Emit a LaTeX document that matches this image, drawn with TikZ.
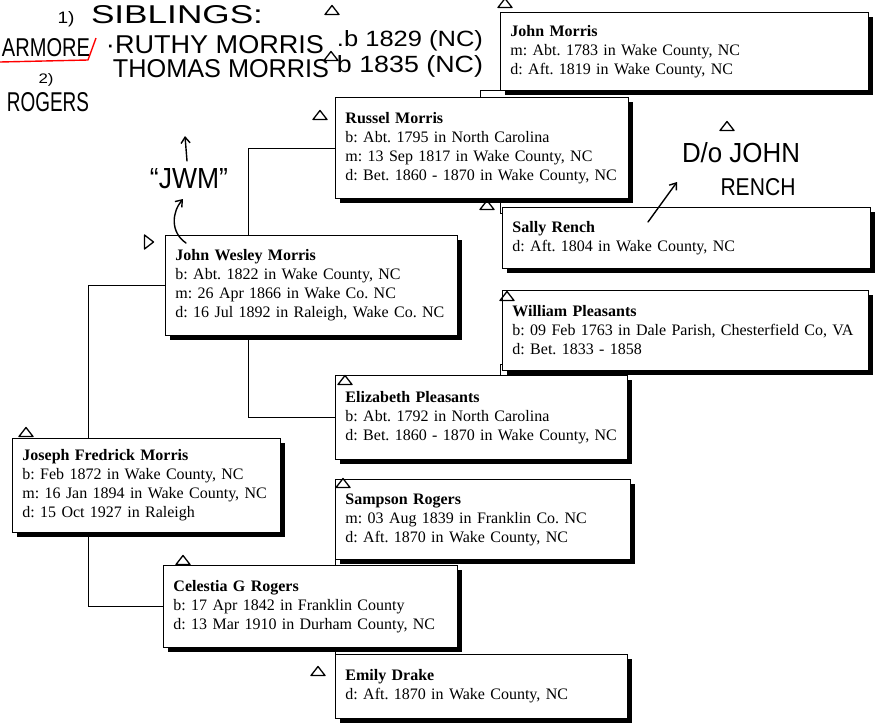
\documentclass[tikz,border=0pt]{standalone}
\usepackage{fontspec}
\setmainfont{Liberation Serif}
\newfontfamily\hwfont{Liberation Sans}
\usepackage{graphicx}
\usetikzlibrary{shadows,calc,arrows.meta}
\begin{document}
\frenchspacing
\begin{tikzpicture}[x=1pt,y=-1pt,
  pbox/.style={draw=black, line width=0.9pt, fill=white, inner xsep=10pt, inner ysep=0pt,
    anchor=north west, align=left, font=\fontsize{16}{19}\selectfont,
    drop shadow={shadow xshift=4.5pt, shadow yshift=-4.5pt, fill=black, opacity=1}},
  conn/.style={line width=0.9pt},
  hwl/.style={line width=1.4pt, line cap=round, line join=round},
  hwn/.style={inner sep=0pt, anchor=center},
  hwtip/.style={-{Straight Barb[length=6pt,width=9pt]}},
  tri/.pic={\draw[line width=1.3pt, line join=round] (-7,3.5) -- (7,3.5) -- (0,-5.5) -- cycle;}
]
\useasboundingbox (0,0) rectangle (877,723);
\fill[white] (0,0) rectangle (877,723);

% boxes
\node[pbox,text width=348pt,minimum height=78pt] (jm) at (500,12) {\textbf{John Morris}\\m: Abt. 1783 in Wake County, NC\\d: Aft. 1819 in Wake County, NC};
\node[pbox,text width=273pt,minimum height=101pt] (rm) at (335,97) {\textbf{Russel Morris}\\b: Abt. 1795 in North Carolina\\m: 13 Sep 1817 in Wake County, NC\\d: Bet. 1860 - 1870 in Wake County, NC};
\node[pbox,text width=348pt,minimum height=61pt] (sr) at (502,207) {\textbf{Sally Rench}\\d: Aft. 1804 in Wake County, NC};
\node[pbox,text width=272pt,minimum height=100pt] (jwm) at (165,235) {\textbf{John Wesley Morris}\\b: Abt. 1822 in Wake County, NC\\m: 26 Apr 1866 in Wake Co. NC\\d: 16 Jul 1892 in Raleigh, Wake Co. NC};
\node[pbox,text width=346pt,minimum height=80pt] (wp) at (502,290) {\textbf{William Pleasants}\\b: 09 Feb 1763 in Dale Parish, Chesterfield Co, VA\\d: Bet. 1833 - 1858};
\node[pbox,text width=272pt,minimum height=84pt] (ep) at (335,375) {\textbf{Elizabeth Pleasants}\\b: Abt. 1792 in North Carolina\\d: Bet. 1860 - 1870 in Wake County, NC};
\node[pbox,text width=248pt,minimum height=94pt] (jfm) at (12,438) {\textbf{Joseph Fredrick Morris}\\b: Feb 1872 in Wake County, NC\\m: 16 Jan 1894 in Wake County, NC\\d: 15 Oct 1927 in Raleigh};
\node[pbox,text width=275pt,minimum height=80pt] (sam) at (335,479) {\textbf{Sampson Rogers}\\m: 03 Aug 1839 in Franklin Co. NC\\d: Aft. 1870 in Wake County, NC};
\node[pbox,text width=274pt,minimum height=82pt] (cgr) at (163,565) {\textbf{Celestia G Rogers}\\b: 17 Apr 1842 in Franklin County\\d: 13 Mar 1910 in Durham County, NC};
\node[pbox,text width=272pt,minimum height=64pt] (ed) at (335,654) {\textbf{Emily Drake}\\d: Aft. 1870 in Wake County, NC};

% connectors
\draw[conn] ($(jfm.north west)+(76,0)$) |- (jwm.west);
\draw[conn] ($(jfm.south west)+(76,0)$) |- (cgr.west);
\draw[conn] ($(jwm.north west)+(83,0)$) |- (rm.west);
\draw[conn] ($(jwm.south west)+(83,0)$) |- (ep.west);
\draw[conn] ($(rm.north west)+(145,0)$) |- (jm.south west);
\draw[conn] ($(rm.south west)+(165,0)$) |- ($(sr.north west)+(0,6)$);
\draw[conn] ($(ep.north west)+(165,0)$) |- ($(wp.south west)+(0,-6)$);
\draw[conn] ($(cgr.north west)+(172,0)$) -- (sam.south west);
\draw[conn] ($(cgr.south west)+(172,0)$) -- (ed.north west);

% handwriting
\node[hwn] (h1) at (66,19) {\resizebox{17pt}{12pt}{\hwfont 1)}};
\node[hwn] (h2) at (177,15) {\resizebox{172pt}{18pt}{\hwfont SIBLINGS:}};
\node[hwn] (h3) at (46,48) {\resizebox{88pt}{18pt}{\hwfont ARMORE}};
\node[hwn] (h4) at (215,45) {\resizebox{218pt}{18pt}{\hwfont ·RUTHY MORRIS}};
\node[hwn] (h5) at (410,41) {\resizebox{146pt}{16pt}{\hwfont .b 1829 (NC)}};
\node[hwn] (h6) at (410,66) {\resizebox{146pt}{17pt}{\hwfont b 1835 (NC)}};
\node[hwn] (h7) at (221,69) {\resizebox{216pt}{18pt}{\hwfont THOMAS MORRIS}};
\node[hwn] (h8) at (46,80) {\resizebox{15pt}{10pt}{\hwfont 2)}};
\node[hwn] (h9) at (48,102) {\resizebox{82pt}{19pt}{\hwfont ROGERS}};
\node[hwn] (h10) at (189,179) {\resizebox{78pt}{20pt}{\hwfont “JWM”}};
\node[hwn] (h11) at (741,153) {\resizebox{118pt}{20pt}{\hwfont D/o JOHN}};
\node[hwn] (h12) at (758,187) {\resizebox{75pt}{17pt}{\hwfont RENCH}};

% red mark
\draw[red, line width=1.4pt, line join=round] (0,62) -- (88,60) -- (96,38);

% hand arrows
\draw[hwl, hwtip] (187,161) -- (185,136);
\draw[hwl, hwtip] (186,243) .. controls (170,232) and (172,212) .. (183,199);
\draw[hwl, hwtip] (648,222) -- (677,182);

% triangles
\pic at (505,4) {tri};
\pic at (332,11) {tri};
\pic at (331,57) {tri};
\pic at (320,116) {tri};
\pic[rotate=-90] at (148,242) {tri};
\pic at (487,206) {tri};
\pic at (727,127) {tri};
\pic at (507,297) {tri};
\pic at (345,381) {tri};
\pic at (26,433) {tri};
\pic at (343,484) {tri};
\pic at (183,561) {tri};
\pic at (318,672) {tri};
\end{tikzpicture}
\end{document}
